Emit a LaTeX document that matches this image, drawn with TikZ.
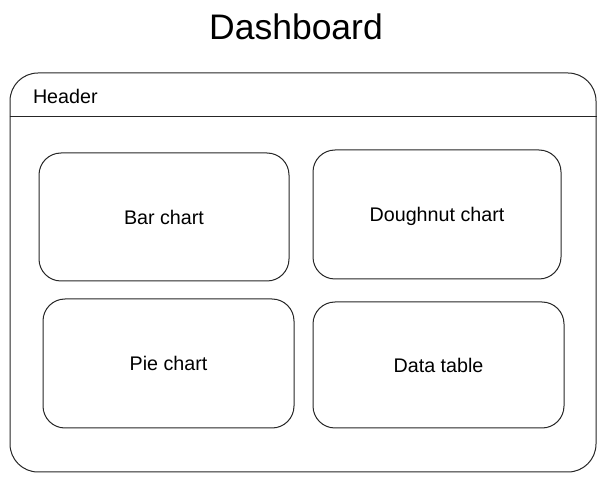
\documentclass[tikz,border=0pt]{standalone}
\usepackage{fontspec}
\setmainfont{Liberation Sans}
\usetikzlibrary{positioning}
\tikzset{every path/.style={black!85,line width=1pt}, every node/.style={inner sep=0pt, text=black}}
\tikzset{panel/.style={draw, rounded corners=22pt, text depth=0pt, font=\fontsize{19.7}{24}\selectfont}}

\begin{document}
\begin{tikzpicture}[x=1pt,y=-1pt]
  \useasboundingbox (0,0) rectangle (606,481);
  \node (t) at (296,40) [anchor=base, font=\fontsize{35.5}{42}\selectfont] {Dashboard};
  \node (f) at (303,272.5) [draw, rounded corners=28pt, minimum width=586pt, minimum height=399pt] {};
  \draw ([yshift=-44pt]f.north west) -- ([yshift=-44pt]f.north east);
  \node (h) at ([xshift=23pt,yshift=-31pt]f.north west) [anchor=base west, font=\fontsize{19.7}{24}\selectfont] {Header};
  \node (a) at (164,217)   [panel, minimum width=250pt, minimum height=128pt] {Bar chart};
  \node (b) at (437,214.5) [panel, minimum width=248pt, minimum height=129pt] {Doughnut chart};
  \node (c) at (168.5,363.5) [panel, minimum width=251pt, minimum height=129pt] {Pie chart};
  \node (d) at (438.5,365) [panel, minimum width=251pt, minimum height=126pt] {Data table};
\end{tikzpicture}
\end{document}
